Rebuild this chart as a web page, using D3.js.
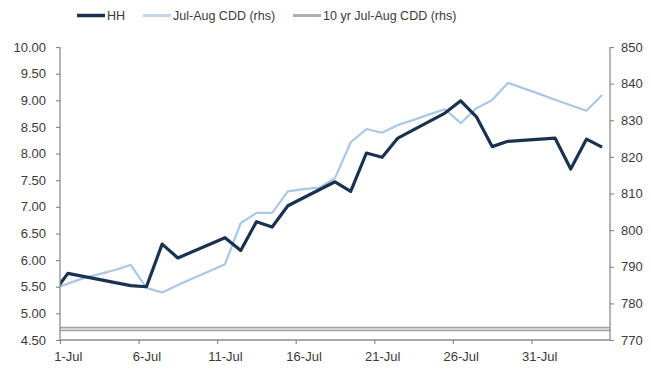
<!DOCTYPE html>
<html>
<head>
<meta charset="utf-8">
<script src="https://cdn.jsdelivr.net/npm/d3@7"></script>
<style>
  html, body { margin: 0; padding: 0; background: #fff; }
  svg { display: block; font-family: "Liberation Sans", Arial, sans-serif; }
</style>
</head>
<body>
<svg id="chart" width="651" height="369"></svg>
<script>
// Henry Hub price (lhs, $/MMBtu) on trading days
const hhDates = ["2022-06-30","2022-07-01","2022-07-05","2022-07-06","2022-07-07","2022-07-08",
  "2022-07-11","2022-07-12","2022-07-13","2022-07-14","2022-07-15",
  "2022-07-18","2022-07-19","2022-07-20","2022-07-21","2022-07-22",
  "2022-07-25","2022-07-26","2022-07-27","2022-07-28","2022-07-29",
  "2022-08-01","2022-08-02","2022-08-03","2022-08-04"];
const hhValues = [5.35, 5.75, 5.52, 5.50, 6.30, 6.04,
  6.42, 6.18, 6.72, 6.62, 7.02,
  7.47, 7.29, 8.01, 7.93, 8.29,
  8.76, 8.99, 8.69, 8.13, 8.23,
  8.29, 7.71, 8.27, 8.12];

// Jul-Aug CDD forecast (rhs), daily from 30-Jun
const cddStart = "2022-06-30";
const cddValues = [783.8,
  785.4, 786.9, 788.0, 789.1, 790.5, 784.2, 783.0, 785.0, 786.9, 788.8,
  790.7, 801.9, 804.7, 804.7, 810.6, 811.2, 811.6, 814.2, 824.0, 827.6,
  826.6, 828.7, 830.1, 831.6, 833.0, 829.2, 833.3, 835.5, 840.2, 838.7,
  837.2, 835.6, 834.1, 832.6, 836.9];

// 10-year average Jul-Aug CDD (rhs)
const tenYrDates = ["2022-06-30", "2022-08-05"];
const tenYrValues = [773, 773];

const leftTicks = [4.5, 5, 5.5, 6, 6.5, 7, 7.5, 8, 8.5, 9, 9.5, 10];
const rightTicks = [770, 780, 790, 800, 810, 820, 830, 840, 850];
const xTickDates = ["2022-07-01","2022-07-06","2022-07-11","2022-07-16","2022-07-21","2022-07-26","2022-07-31"];

const legendLabels = ["HH", "Jul-Aug CDD (rhs)", "10 yr Jul-Aug CDD (rhs)"];
const colors = { hh: "#1b324f", cdd: "#a9c7e6", ten: "#a3a3a3", axis: "#8c8c8c", text: "#3a3a3a" };

const parse = d3.utcParse("%Y-%m-%d");
const svg = d3.select("#chart");
const plot = { left: 60, right: 610, top: 47, bottom: 340 };

const x = d3.scaleUtc()
  .domain([parse("2022-07-01"), parse("2022-08-05")])
  .range([plot.left, plot.right]);
const yL = d3.scaleLinear().domain([4.5, 10]).range([plot.bottom, plot.top]);
const yR = d3.scaleLinear().domain([770, 850]).range([plot.bottom, plot.top]);

// points sit in the middle of each day's slot
const mid = d => d3.utcHour.offset(d, 12);

svg.append("defs").append("clipPath").attr("id", "plotClip")
  .append("rect")
  .attr("x", plot.left).attr("y", plot.top)
  .attr("width", plot.right - plot.left).attr("height", plot.bottom - plot.top);

const hhData = hhDates.map((d, i) => ({ date: parse(d), v: hhValues[i] }));
const cddData = cddValues.map((v, i) => ({ date: d3.utcDay.offset(parse(cddStart), i), v }));
const tenData = tenYrDates.map((d, i) => ({ date: parse(d), v: tenYrValues[i] }));

const lines = svg.append("g").attr("clip-path", "url(#plotClip)");

// 10-yr line: grey band with a lighter core
const tenLine = d3.line().x(d => x(d.date)).y(d => yR(d.v));
lines.append("path").datum(tenData).attr("d", tenLine)
  .attr("fill", "none").attr("stroke", colors.ten).attr("stroke-width", 4.5);
lines.append("path").datum(tenData).attr("d", tenLine)
  .attr("fill", "none").attr("stroke", "#e4e4e4").attr("stroke-width", 1.5);

// CDD line
lines.append("path").datum(cddData)
  .attr("d", d3.line().x(d => x(mid(d.date))).y(d => yR(d.v)))
  .attr("fill", "none").attr("stroke", colors.cdd).attr("stroke-width", 2.2)
  .attr("stroke-linejoin", "round");

// HH line
lines.append("path").datum(hhData)
  .attr("d", d3.line().x(d => x(mid(d.date))).y(d => yL(d.v)))
  .attr("fill", "none").attr("stroke", colors.hh).attr("stroke-width", 3.2)
  .attr("stroke-linejoin", "round");

// Left axis
const gL = svg.append("g").attr("transform", `translate(${plot.left},0)`)
  .call(d3.axisLeft(yL).tickValues(leftTicks).tickFormat(d3.format(".2f")).tickSize(4).tickPadding(10));
// Right axis
const gR = svg.append("g").attr("transform", `translate(${plot.right},0)`)
  .call(d3.axisRight(yR).tickValues(rightTicks).tickFormat(d3.format("d")).tickSize(4).tickPadding(7));
// Bottom axis: ticks at day boundaries, labels centred on the day
const gB = svg.append("g").attr("transform", `translate(0,${plot.bottom})`)
  .call(d3.axisBottom(x).tickValues(xTickDates.map(parse)).tickFormat(() => "").tickSize(4));
gB.selectAll(".tick").append("text")
  .attr("x", d => x(mid(d)) - x(d)).attr("y", 21)
  .attr("text-anchor", "middle")
  .text(d => d3.utcFormat("%-d-%b")(d));

[gL, gR, gB].forEach(g => {
  g.select(".domain").attr("stroke", colors.axis).attr("stroke-width", 1.3);
  g.selectAll(".tick line").attr("stroke", colors.axis).attr("stroke-width", 1.2);
  g.selectAll("text").attr("fill", colors.text).attr("font-size", 13)
    .attr("font-family", "Liberation Sans, Arial, sans-serif");
});
gB.select(".domain").attr("d", `M${plot.left},0H${plot.right}`);
gL.select(".domain").attr("d", `M0,${plot.bottom}V${plot.top}`);
gR.select(".domain").attr("d", `M0,${plot.bottom}V${plot.top}`);

// Legend
const legendItems = [
  { label: legendLabels[0], color: colors.hh, w: 3.5, x0: 77 },
  { label: legendLabels[1], color: "#c3d6ec", w: 3, x0: 143 },
  { label: legendLabels[2], color: "#b0b0b0", w: 3, x0: 293 }
];
const lg = svg.append("g");
legendItems.forEach(it => {
  lg.append("line").attr("x1", it.x0).attr("x2", it.x0 + 28).attr("y1", 15.5).attr("y2", 15.5)
    .attr("stroke", it.color).attr("stroke-width", it.w);
  lg.append("text").attr("x", it.x0 + 30).attr("y", 20)
    .attr("font-size", 12.5).attr("fill", colors.text).text(it.label);
});
</script>
</body>
</html>
